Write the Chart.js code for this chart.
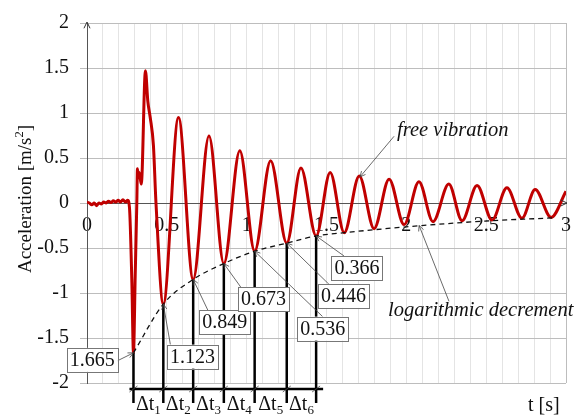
<!DOCTYPE html>
<html>
<head>
<meta charset="utf-8">
<script src="https://cdn.jsdelivr.net/npm/chart.js@4.4.1/dist/chart.umd.min.js"></script>
<style>
  html, body { margin: 0; padding: 0; background: #fff; }
</style>
</head>
<body>
<canvas id="accChart" width="582" height="418"></canvas>
<script>
// acceleration record: turning points of the signal (troughs kept separately below)
const sigTime = [0.000, 0.015, 0.030, 0.045, 0.060, 0.075, 0.090, 0.105, 0.120, 0.135,
                 0.150, 0.165, 0.180, 0.195, 0.210, 0.225, 0.240, 0.255, 0.266, 0.281,
                 0.302, 0.312, 0.316, 0.322, 0.327, 0.340, 0.366, 0.381, 0.396, 0.416,
                 0.432, 0.573, 0.764, 0.957, 1.150, 1.340, 1.523, 1.611, 1.705, 1.798,
                 1.892, 1.986, 2.079, 2.167, 2.266, 2.349, 2.443, 2.537, 2.630, 2.724,
                 2.807, 2.907, 3.000];
const sigAcc  = [0.01, 0.00, -0.02, 0.00, -0.03, 0.00, -0.01, 0.01, 0.00, 0.02,
                 0.005, 0.025, 0.01, 0.03, 0.01, 0.035, 0.01, 0.03, -0.05, -0.88,
                 -0.80, 0.00, 0.38, 0.28, 0.34, 0.21, 1.47, 1.13, 0.95, 0.64,
                 0.00, 0.95, 0.745, 0.58, 0.47, 0.39, 0.34, -0.33, 0.30, -0.285,
                 0.265, -0.24, 0.235, -0.207, 0.21, -0.196, 0.195, -0.19, 0.17, -0.17,
                 0.15, -0.16, 0.13];

// troughs read for the logarithmic decrement
const troughTime = [0.291, 0.478, 0.665, 0.857, 1.050, 1.251, 1.435];
const troughAcc  = [-1.665, -1.123, -0.849, -0.673, -0.536, -0.446, -0.366];

// envelope after the last marked trough
const envTailTime = [1.611, 2.0, 2.5, 2.93];
const envTailAcc  = [-0.33, -0.265, -0.2, -0.165];

const xTickLabels = [0, 0.5, 1, 1.5, 2, 2.5, 3];
const dtIndex = ["1", "2", "3", "4", "5", "6"];

const serif = '"Liberation Serif", "Times New Roman", serif';

const sigPts = sigTime.map((t, i) => ({x: t, y: sigAcc[i]}))
  .concat(troughTime.map((t, i) => ({x: t, y: troughAcc[i]})))
  .sort((a, b) => a.x - b.x);
const envPts = troughTime.map((t, i) => ({x: t, y: troughAcc[i]}))
  .concat(envTailTime.map((t, i) => ({x: t, y: envTailAcc[i]})));

function arrowHead(ctx, x0, y0, x1, y1, size) {
  const a = Math.atan2(y1 - y0, x1 - x0);
  ctx.beginPath();
  ctx.moveTo(x1 - size * Math.cos(a - 0.45), y1 - size * Math.sin(a - 0.45));
  ctx.lineTo(x1, y1);
  ctx.lineTo(x1 - size * Math.cos(a + 0.45), y1 - size * Math.sin(a + 0.45));
  ctx.stroke();
}

function leader(ctx, x0, y0, x1, y1) {
  ctx.beginPath();
  ctx.moveTo(x0, y0);
  ctx.lineTo(x1, y1);
  ctx.stroke();
  arrowHead(ctx, x0, y0, x1, y1, 6);
}

// value boxes: centre in axis units, leader start offset in px
const boxAt = [[0.033, -1.743], [0.660, -1.707], [0.863, -1.323], [1.105, -1.067],
               [1.476, -1.396], [1.607, -1.032], [1.691, -0.722]];
const boxLead = [[25, 1], [-22, -12], [-17, -12], [-22, -11], [0, -12], [-14, -11], [-13, -12]];

const decor = {
  id: 'decor',
  afterDatasetsDraw(chart) {
    const {ctx, chartArea: a, scales: {x, y}} = chart;
    ctx.save();

    // axis arrows
    ctx.strokeStyle = '#333';
    ctx.lineWidth = 1;
    const y0 = y.getPixelForValue(0);
    arrowHead(ctx, a.left, a.top + 20, a.left, a.top - 1, 7);
    arrowHead(ctx, a.right - 20, y0, a.right + 1, y0, 7);

    // verticals from each trough down to the Δt bracket
    const px = troughTime.map(t => x.getPixelForValue(t));
    const bracketY = a.bottom + 6;
    ctx.strokeStyle = '#000';
    ctx.lineWidth = 2.5;
    px.forEach((p, i) => {
      ctx.beginPath();
      ctx.moveTo(p, y.getPixelForValue(troughAcc[i]));
      ctx.lineTo(p, a.bottom + 20);
      ctx.stroke();
    });
    ctx.beginPath();
    ctx.moveTo(px[0] - 4, bracketY);
    ctx.lineTo(px[px.length - 1] + 7, bracketY);
    ctx.stroke();
    ctx.lineWidth = 0.8;
    ctx.strokeStyle = '#444';
    px.forEach(p => {
      ctx.beginPath();
      ctx.moveTo(p - 4, bracketY + 3);
      ctx.lineTo(p + 4, bracketY - 3);
      ctx.stroke();
    });

    // Δt labels
    ctx.fillStyle = '#111';
    ctx.textBaseline = 'alphabetic';
    ctx.textAlign = 'left';
    for (let i = 0; i < dtIndex.length; i++) {
      const cx = (px[i] + px[i + 1]) / 2;
      ctx.font = '20px ' + serif;
      const w1 = ctx.measureText('Δt').width;
      ctx.font = '13px ' + serif;
      const w2 = ctx.measureText(dtIndex[i]).width;
      const sx = cx - (w1 + w2) / 2;
      ctx.font = '20px ' + serif;
      ctx.fillText('Δt', sx, a.bottom + 27);
      ctx.font = '13px ' + serif;
      ctx.fillText(dtIndex[i], sx + w1, a.bottom + 31);
    }

    // value boxes with leaders
    ctx.font = '20px ' + serif;
    troughAcc.forEach((v, i) => {
      const bx = x.getPixelForValue(boxAt[i][0]);
      const by = y.getPixelForValue(boxAt[i][1]);
      const tx = px[i];
      const ty = y.getPixelForValue(v);
      ctx.strokeStyle = '#444';
      ctx.lineWidth = 0.8;
      leader(ctx, bx + boxLead[i][0], by + boxLead[i][1], tx, ty);
      const txt = Math.abs(v).toFixed(3);
      const w = ctx.measureText(txt).width + 6;
      const h = 24;
      ctx.fillStyle = '#fff';
      ctx.fillRect(bx - w / 2, by - h / 2, w, h);
      ctx.strokeStyle = '#777';
      ctx.lineWidth = 1;
      ctx.strokeRect(Math.round(bx - w / 2) + 0.5, Math.round(by - h / 2) + 0.5, Math.round(w), h);
      ctx.fillStyle = '#111';
      ctx.textAlign = 'center';
      ctx.textBaseline = 'middle';
      ctx.fillText(txt, bx, by + 1);
    });

    // notes
    ctx.font = 'italic 20.5px ' + serif;
    ctx.textAlign = 'left';
    ctx.textBaseline = 'middle';
    ctx.fillStyle = '#111';
    const fx = x.getPixelForValue(1.942), fy = y.getPixelForValue(0.808);
    ctx.fillText('free vibration', fx, fy);
    const lx = x.getPixelForValue(1.885), ly = y.getPixelForValue(-1.192);
    ctx.fillText('logarithmic decrement', lx, ly);
    ctx.strokeStyle = '#444';
    ctx.lineWidth = 0.8;
    leader(ctx, fx - 3, fy + 6, x.getPixelForValue(1.71), y.getPixelForValue(0.29));
    leader(ctx, lx + 61, ly - 9, x.getPixelForValue(2.08), y.getPixelForValue(-0.25));

    // axis titles
    ctx.font = '20px ' + serif;
    ctx.textBaseline = 'alphabetic';
    ctx.fillText('t [s]', a.right - 38, a.bottom + 28);

    ctx.translate(31, (a.top + a.bottom) / 2 - 4);
    ctx.rotate(-Math.PI / 2);
    const p1 = 'Acceleration [m/s', p2 = '2', p3 = ']';
    ctx.font = '19px ' + serif;
    const w1 = ctx.measureText(p1).width, w3 = ctx.measureText(p3).width;
    ctx.font = '12.5px ' + serif;
    const w2 = ctx.measureText(p2).width;
    let sx = -(w1 + w2 + w3) / 2;
    ctx.font = '19px ' + serif;
    ctx.fillText(p1, sx, 0);
    ctx.font = '12.5px ' + serif;
    ctx.fillText(p2, sx + w1, -8);
    ctx.font = '19px ' + serif;
    ctx.fillText(p3, sx + w1 + w2, 0);

    ctx.restore();
  }
};

new Chart(document.getElementById('accChart'), {
  type: 'line',
  data: {
    datasets: [
      { data: envPts, borderColor: '#111', borderWidth: 1.3, borderDash: [5, 4],
        pointRadius: 0, cubicInterpolationMode: 'monotone', fill: false },
      { data: sigPts, borderColor: '#c00000', borderWidth: 3, pointRadius: 0,
        cubicInterpolationMode: 'monotone', borderJoinStyle: 'round', fill: false }
    ]
  },
  options: {
    responsive: false,
    animation: false,
    layout: { padding: { top: 15, right: 15, bottom: 35, left: 0 } },
    plugins: { legend: { display: false }, tooltip: { enabled: false } },
    scales: {
      x: {
        type: 'linear', min: 0, max: 3, position: { y: 0 },
        ticks: {
          stepSize: 0.1, autoSkip: false, maxRotation: 0, padding: 11,
          font: { family: serif, size: 20 }, color: '#111',
          callback: v => {
            const r = Math.round(v * 10) / 10;
            return xTickLabels.includes(r) ? String(r) : '';
          }
        },
        grid: {
          color: c => (c.tick && Math.abs(c.tick.value - 3) < 1e-6) ? '#bdbdbd' : '#e4e4e4',
          drawTicks: false
        },
        border: { color: '#555', width: 1 }
      },
      y: {
        min: -2, max: 2,
        ticks: {
          stepSize: 0.5, padding: 11, font: { family: serif, size: 20 }, color: '#111',
          callback: v => String(Math.round(v * 10) / 10)
        },
        grid: { color: '#bdbdbd', tickLength: 7 },
        border: { color: '#555' },
        afterFit: s => { s.width = 87; }
      }
    }
  },
  plugins: [decor]
});
</script>
</body>
</html>
